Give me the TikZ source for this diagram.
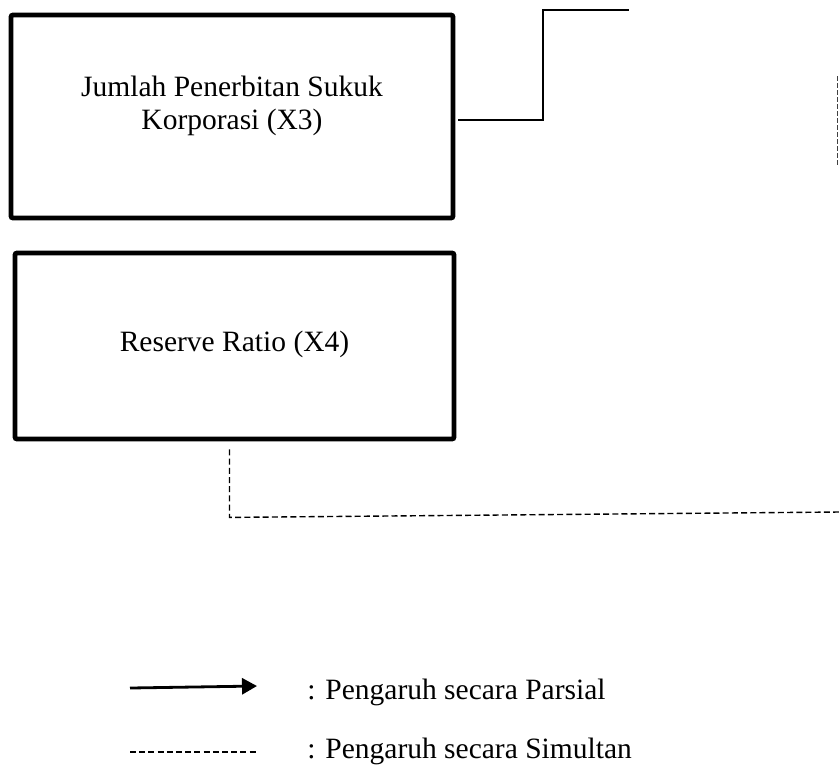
\documentclass[tikz,border=0pt]{standalone}
\usepackage{fontspec}
\setmainfont{Liberation Serif}
\usetikzlibrary{arrows.meta}

\begin{document}
\begin{tikzpicture}[x=0.5pt,y=-0.5pt,>={Triangle[length=7.5pt,width=8pt]},
  varbox/.style={draw,line width=2.4pt,rounded corners=1pt,inner sep=0pt},
  lbl/.style={font=\fontsize{14.75pt}{16.5pt}\selectfont,align=center,inner sep=0pt},
  simul/.style={line width=0.7pt,dash pattern=on 3pt off 1.6pt}]
  \useasboundingbox (0,0) rectangle (839,778);
  \node[varbox,minimum width=221pt,minimum height=101.5pt] (x3) at (232,116.5) {};
  \node[lbl] (x3text) at ([yshift=5.4pt]x3.center) {Jumlah Penerbitan Sukuk\\Korporasi (X3)};
  \node[varbox,minimum width=219.5pt,minimum height=93pt] (x4) at (234.5,346) {};
  \node[lbl] (x4text) at ([yshift=1pt]x4.center) {Reserve Ratio (X4)};
  \coordinate (ytop) at (629,10);
  \draw[line width=1pt] ([xshift=1.5pt,yshift=-1.75pt]x3.east) -| (543,10) -- (ytop);
  \coordinate (yside) at (837.5,76);
  \draw[simul,dash pattern=on 2.5pt off 1pt,black!75] (yside) -- ++(0,91);
  \coordinate (ylow) at (839,512);
  \draw[simul] ([xshift=-2.5pt,yshift=-4pt]x4.south) -- ++(0,68) -- (ylow);
  \coordinate (pa) at (130,688);
  \coordinate (pb) at (257,686);
  \draw[->,line width=1.4pt] (pa) -- (pb);
  \coordinate (sa) at (130,752);
  \coordinate (sb) at (256,752);
  \draw[simul] (sa) -- (sb);
  \node[lbl,anchor=base west] (parsial) at (307,699) {: Pengaruh secara Parsial};
  \node[lbl,anchor=base west] (simultan) at (307,758) {: Pengaruh secara Simultan};
\end{tikzpicture}
\end{document}
